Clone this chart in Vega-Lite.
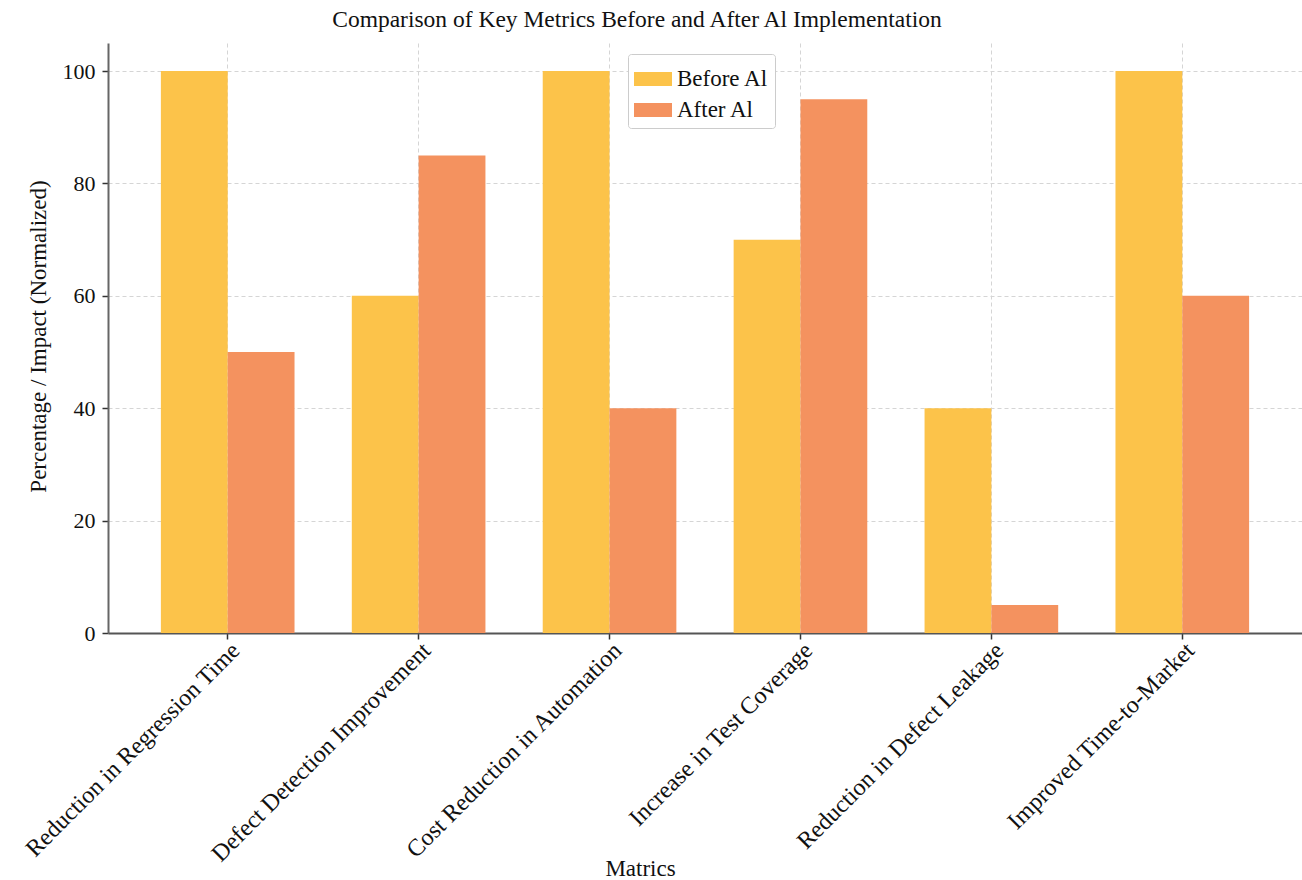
{
  "$schema": "https://vega.github.io/schema/vega-lite/v6.json",
  "width": 1194,
  "height": 590,
  "autosize": {"type": "none"},
  "padding": {"left": 108, "top": 43, "right": 0, "bottom": 247},
  "background": "white",
  "title": {
    "text": "Comparison of Key Metrics Before and After Al Implementation",
    "anchor": "middle",
    "dx": -68,
    "font": "Liberation Serif",
    "fontSize": 23.5,
    "fontWeight": "normal",
    "color": "#111111",
    "offset": 12
  },
  "data": {
    "values": [
      {"metric": "Reduction in Regression Time", "phase": "Before Al", "value": 100},
      {"metric": "Reduction in Regression Time", "phase": "After Al", "value": 50},
      {"metric": "Defect Detection Improvement", "phase": "Before Al", "value": 60},
      {"metric": "Defect Detection Improvement", "phase": "After Al", "value": 85},
      {"metric": "Cost Reduction in Automation", "phase": "Before Al", "value": 100},
      {"metric": "Cost Reduction in Automation", "phase": "After Al", "value": 40},
      {"metric": "Increase in Test Coverage", "phase": "Before Al", "value": 70},
      {"metric": "Increase in Test Coverage", "phase": "After Al", "value": 95},
      {"metric": "Reduction in Defect Leakage", "phase": "Before Al", "value": 40},
      {"metric": "Reduction in Defect Leakage", "phase": "After Al", "value": 5},
      {"metric": "Improved Time-to-Market", "phase": "Before Al", "value": 100},
      {"metric": "Improved Time-to-Market", "phase": "After Al", "value": 60}
    ]
  },
  "mark": {"type": "bar"},
  "encoding": {
    "x": {
      "field": "metric",
      "type": "nominal",
      "sort": null,
      "scale": {"paddingInner": 0.3, "paddingOuter": 0.277},
      "axis": {
        "title": "Matrics",
        "titleFont": "Liberation Serif",
        "titleFontSize": 23,
        "titleFontWeight": "normal",
        "titleColor": "#111111",
        "titleX": 532,
        "titleY": 242,
        "titleAlign": "center",
        "titleBaseline": "alphabetic",
        "labelAngle": -45,
        "labelAlign": "right",
        "labelBaseline": "top",
        "labelFont": "Liberation Serif",
        "labelFontSize": 24,
        "labelColor": "#111111",
        "labelPadding": -1,
        "labelLimit": 0,
        "grid": true,
        "gridColor": "#d5d5d5",
        "gridDash": [4, 3],
        "gridWidth": 1,
        "domainColor": "#555555",
        "domainWidth": 2,
        "tickColor": "#333333",
        "tickSize": 6,
        "tickWidth": 1.5
      }
    },
    "xOffset": {"field": "phase", "type": "nominal", "sort": ["Before Al", "After Al"]},
    "y": {
      "field": "value",
      "type": "quantitative",
      "scale": {"domain": [0, 105], "nice": false},
      "axis": {
        "title": "Percentage / Impact (Normalized)",
        "titleFont": "Liberation Serif",
        "titleFontSize": 23,
        "titleFontWeight": "normal",
        "titleColor": "#111111",
        "titleAngle": -90,
        "titleX": -63,
        "titleY": 293,
        "titleAlign": "center",
        "titleBaseline": "alphabetic",
        "values": [0, 20, 40, 60, 80, 100],
        "labelFont": "Liberation Serif",
        "labelFontSize": 22,
        "labelColor": "#111111",
        "labelPadding": 7,
        "grid": true,
        "gridColor": "#d5d5d5",
        "gridDash": [4, 3],
        "gridWidth": 1,
        "domainColor": "#666666",
        "domainWidth": 2,
        "tickColor": "#333333",
        "tickSize": 6,
        "tickWidth": 1.5
      }
    },
    "color": {
      "field": "phase",
      "type": "nominal",
      "sort": ["Before Al", "After Al"],
      "scale": {"domain": ["Before Al", "After Al"], "range": ["#FCC34A", "#F4925F"]},
      "legend": {
        "title": null,
        "orient": "none",
        "legendX": 520,
        "legendY": 11,
        "symbolType": "M-1,-0.37H1V0.37H-1Z",
        "symbolSize": 1444,
        "symbolStrokeWidth": 0,
        "labelFont": "Liberation Serif",
        "labelFontSize": 23,
        "labelColor": "#111111",
        "labelOffset": 5,
        "rowPadding": -2,
        "padding": 6,
        "strokeColor": "#cccccc",
        "fillColor": "white",
        "cornerRadius": 3
      }
    }
  },
  "config": {
    "view": {"stroke": null}
  }
}
